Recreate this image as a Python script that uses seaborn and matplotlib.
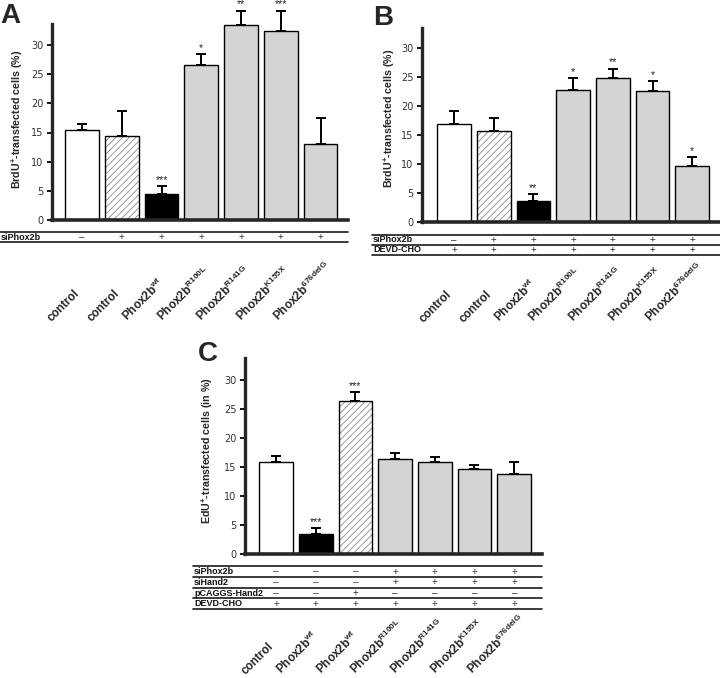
import numpy as np
import pandas as pd
import matplotlib
matplotlib.use("Agg")
import matplotlib.pyplot as plt
import seaborn as sns
from matplotlib.transforms import blended_transform_factory, ScaledTranslation
from matplotlib.lines import Line2D
from matplotlib.patches import Rectangle

sns.set_theme(style="ticks")
plt.rcParams["font.family"] = ["Liberation Sans", "DejaVu Sans"]
plt.rcParams["mathtext.fontset"] = "custom"
plt.rcParams["mathtext.rm"] = "Liberation Sans"
plt.rcParams["mathtext.bf"] = "Liberation Sans:bold"
plt.rcParams["mathtext.it"] = "Liberation Sans:italic"
plt.rcParams["hatch.linewidth"] = 0.6

# ---------------- data ----------------
labels_A = ["control", "control", r"Phox2b$^{\mathbf{wt}}$", r"Phox2b$^{\mathbf{R100L}}$",
            r"Phox2b$^{\mathbf{R141G}}$", r"Phox2b$^{\mathbf{K155X}}$", r"Phox2b$^{\mathbf{676delG}}$"]
styles_A = ["open", "hatched", "black", "grey", "grey", "grey", "grey"]
means_A = [15.5, 14.4, 4.5, 26.5, 33.5, 32.4, 13.1]
errs_A = [0.9, 4.3, 1.3, 1.9, 2.4, 3.5, 4.4]
sig_A = ["", "", "***", "*", "**", "***", ""]
rows_A = {"siPhox2b": ["–", "+", "+", "+", "+", "+", "+"]}

labels_B = labels_A
styles_B = ["open", "hatched", "black", "grey", "grey", "grey", "grey"]
means_B = [17.0, 15.8, 3.6, 22.8, 24.8, 22.7, 9.7]
errs_B = [2.2, 2.2, 1.2, 2.0, 1.7, 1.6, 1.5]
sig_B = ["", "", "**", "*", "**", "*", "*"]
rows_B = {"siPhox2b": ["–", "+", "+", "+", "+", "+", "+"],
          "DEVD-CHO": ["+", "+", "+", "+", "+", "+", "+"]}

labels_C = ["control", r"Phox2b$^{\mathbf{wt}}$", r"Phox2b$^{\mathbf{wt}}$", r"Phox2b$^{\mathbf{R100L}}$",
            r"Phox2b$^{\mathbf{R141G}}$", r"Phox2b$^{\mathbf{K155X}}$", r"Phox2b$^{\mathbf{676delG}}$"]
styles_C = ["open", "black", "hatched", "grey", "grey", "grey", "grey"]
means_C = [15.8, 3.4, 26.4, 16.3, 15.8, 14.7, 13.8]
errs_C = [1.1, 1.0, 1.5, 1.1, 0.9, 0.6, 2.1]
sig_C = ["", "***", "***", "", "", "", ""]
rows_C = {"siPhox2b": ["–", "–", "–", "+", "+", "+", "+"],
          "siHand2": ["–", "–", "–", "+", "+", "+", "+"],
          "pCAGGS-Hand2": ["–", "–", "+", "–", "–", "–", "–"],
          "DEVD-CHO": ["+", "+", "+", "+", "+", "+", "+"]}

# ---------------- layout ----------------
W, H = 720, 678
fig = plt.figure(figsize=(W / 100, H / 100), dpi=100)
fig.patch.set_facecolor("white")


def fx(px):
    return px / W


def fy(py):
    return 1 - py / H


FILL = {"open": "white", "hatched": "white", "black": "black", "grey": "#d4d4d4"}


def panel(letter, labels, styles, means, errs, sig, rows, ylabel,
          ax_px, xlim, ylim_top, table_x0, table_lines, label_bottom, letter_xy, ylab_xy):
    left, right, bottom, top = ax_px
    ax = fig.add_axes([fx(left), fy(bottom), (right - left) / W, (bottom - top) / H])
    keys = [f"k{i}" for i in range(len(means))]
    df = pd.DataFrame({"key": keys, "value": means})
    pal = {k: FILL[s] for k, s in zip(keys, styles)}
    sns.barplot(data=df, x="key", y="value", hue="key", palette=pal, order=keys,
                hue_order=keys, width=0.85, edgecolor="black", linewidth=1.0,
                errorbar=None, legend=False, saturation=1, ax=ax)
    bars = sorted(ax.patches, key=lambda p: p.get_x())
    for p, s in zip(bars, styles):
        p.set_zorder(2)
        if s == "hatched":
            p.set_hatch("/////")
            p.set_edgecolor("#8a8a8a")
            p.set_linewidth(0)
            ax.add_patch(Rectangle(p.get_xy(), p.get_width(), p.get_height(),
                                   fill=False, edgecolor="black", linewidth=1.0, zorder=2.1))

    x = np.arange(len(means))
    eb = ax.errorbar(x, means, yerr=[np.zeros(len(errs)), errs], fmt="none",
                     ecolor="black", elinewidth=1.4, capsize=3.6, capthick=1.4, zorder=3)
    for a in eb.get_children():
        a.set_clip_on(False)
    for xi, m, e, s in zip(x, means, errs, sig):
        if s:
            ax.text(xi, m + e + 0.25, s, ha="center", va="bottom", fontsize=7.5,
                    color="#222222", clip_on=False)

    ax.set_xlim(*xlim)
    ax.set_ylim(0, ylim_top)
    ax.set_yticks(range(0, 31, 5))
    ax.set_xticks([])
    ax.set_xlabel("")
    sns.despine(ax=ax)
    ax.spines["left"].set_linewidth(2.4)
    ax.spines["bottom"].set_linewidth(2.6)
    ax.spines["left"].set_zorder(4)
    ax.spines["bottom"].set_zorder(4)
    ax.tick_params(axis="y", length=3.5, width=1.3, pad=2.5, labelsize=7,
                   labelcolor="#333333", direction="out", color="black")
    for t in ax.get_yticklabels():
        t.set_fontfamily("DejaVu Sans")
    ax.set_ylabel(ylabel, fontsize=7.7, fontweight="bold")
    ax.yaxis.set_label_coords(*ylab_xy)
    ax.patch.set_alpha(0)

    trans = blended_transform_factory(ax.transData, fig.transFigure)
    for yl in table_lines:
        fig.add_artist(Line2D([fx(table_x0), fx(right)], [fy(yl), fy(yl)],
                              color="#1a1a1a", lw=1.2))
    for r, (name, vals) in enumerate(rows.items()):
        yc = (table_lines[r] + table_lines[r + 1]) / 2
        fig.text(fx(table_x0 + 1), fy(yc), name, fontsize=6.5, fontweight="bold",
                 ha="left", va="center", color="#111111")
        for xi, v in zip(x, vals):
            ax.text(xi, fy(yc), v, transform=trans, ha="center", va="center",
                    fontsize=7, color="#333333")

    shift = ScaledTranslation(-0.18, 0, fig.dpi_scale_trans)
    for xi, lab in zip(x, labels):
        ax.text(xi, fy(label_bottom), lab, transform=trans + shift, rotation=45,
                ha="center", va="bottom", fontsize=8.5, fontweight="bold")

    fig.text(fx(letter_xy[0]), fy(letter_xy[1]), letter, fontsize=20, fontweight="bold",
             ha="center", va="center")
    return ax


panel("A", labels_A, styles_A, means_A, errs_A, sig_A, rows_A,
      r"BrdU$^{\mathbf{+}}$-transfected cells (%)",
      (52, 348, 220, 24), (-0.754, 6.69), 33.6, 0, [231.7, 242.3], 324,
      (10, 16), (-0.091, 0.515))
panel("B", labels_B, styles_B, means_B, errs_B, sig_B, rows_B,
      r"BrdU$^{\mathbf{+}}$-transfected cells (%)",
      (422, 720, 222, 28), (-0.806, 6.70), 33.5, 372, [234.7, 245.0, 254.7], 325,
      (383, 18), (-0.084, 0.536))
panel("C", labels_C, styles_C, means_C, errs_C, sig_C, rows_C,
      r"EdU$^{\mathbf{+}}$-transfected cells (in %)",
      (245, 542, 554, 358), (-0.78, 6.70), 33.8, 193,
      [565.7, 577.3, 587.7, 598.3, 609.3], 677, (208, 354), (-0.10, 0.53))

fig.savefig("out.png", dpi=100, facecolor="white")
